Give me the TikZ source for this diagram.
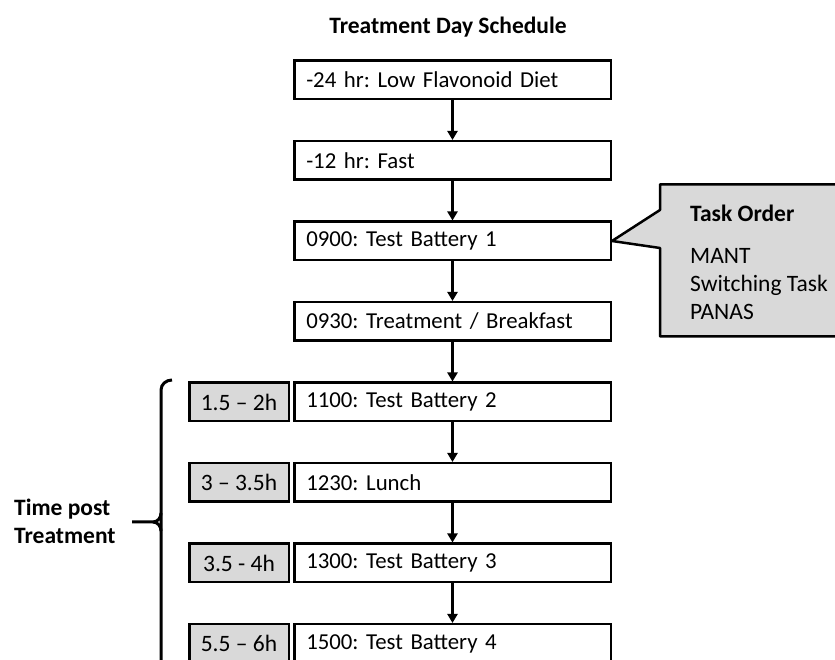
\documentclass[tikz,border=0pt]{standalone}
\usepackage{fontspec}
\setmainfont{Carlito}
\usetikzlibrary{positioning,arrows.meta}
\definecolor{boxgray}{HTML}{D9D9D9}
\frenchspacing

\begin{document}
\begin{tikzpicture}[
x=1pt,y=1pt,
font=\fontsize{23.5}{28}\selectfont,
stage/.style={draw,line width=2.5pt,minimum height=38.5pt,text width=292.5pt,inner xsep=12pt,inner ysep=0pt,align=left,font=\fontsize{22.8}{28}\selectfont},
offset/.style={draw,line width=2.5pt,fill=boxgray,minimum height=38.5pt,minimum width=99.5pt,inner xsep=0pt,inner ysep=0pt},
flow/.style={-{Triangle[length=9pt,width=10pt]},line width=2.3pt},
node distance=39.5pt]
    % page size
    \useasboundingbox (0,0) rectangle (835,660);
    \clip (0,0) rectangle (835,660);

    % schedule
    \node[stage] (diet) at (452.5,580) {-24 hr: Low Flavonoid Diet};
    \node[stage,below=of diet] (fast) {-12 hr: Fast};
    \node[stage,below=of fast] (tb1) {0900: Test Battery 1};
    \node[stage,below=of tb1] (treat) {0930: Treatment / Breakfast};
    \node[stage,below=of treat] (tb2) {1100: Test Battery 2};
    \node[stage,below=of tb2] (lunch) {1230: Lunch};
    \node[stage,below=of lunch] (tb3) {1300: Test Battery 3};
    \node[stage,below=of tb3] (tb4) {1500: Test Battery 4};

    \node[font=\fontsize{23.5}{28}\selectfont\bfseries] (title) at (448,633) {Treatment Day Schedule};

    % time post treatment
    \node[offset,left=3pt of tb2] (t2) {1.5 – 2h};
    \node[offset,left=3pt of lunch] (tl) {3 – 3.5h};
    \node[offset,left=3pt of tb3] (t3) {3.5 - 4h};
    \node[offset,left=3pt of tb4] (t4) {5.5 – 6h};

    \foreach \a/\b in {diet/fast,fast/tb1,tb1/treat,treat/tb2,tb2/lunch,lunch/tb3,tb3/tb4}
        \draw[flow] (\a) -- (\b);

    % brace
    \draw[line width=3pt] (172,280) to[out=180,in=90] (161,270) -- (161,-10);
    \draw[line width=3pt] (161,147) to[out=-90,in=0] (153,138) -- (132,138);
    \draw[line width=3pt] (161,129) to[out=90,in=0] (153,138);
    \node[font=\fontsize{23.5}{28}\selectfont\bfseries,align=left,anchor=west,inner sep=0pt] (post) at (14,139) {Time post\\Treatment};

    % task order callout
    \draw[line width=2.5pt,fill=boxgray,line join=round] (tb1.east) -- (660,450) -- (660,475.5) -- (845,475.5)
        -- (845,323.5) -- (660,323.5) -- (660,412) -- cycle;
    \node[font=\fontsize{23.5}{28}\selectfont\bfseries,anchor=west,inner sep=0pt] (order) at (690,447) {Task Order};
    \node[align=left,anchor=west,inner sep=0pt] (tasks) at (690,376) {MANT\\Switching Task\\PANAS};
\end{tikzpicture}
\end{document}
